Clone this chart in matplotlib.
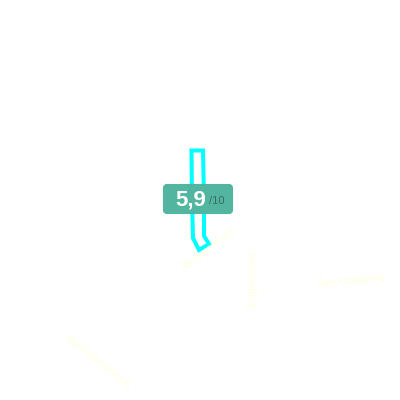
import matplotlib
matplotlib.use('Agg')
import matplotlib.pyplot as plt
from matplotlib.patches import FancyBboxPatch

# outline
outline_x = [191.5, 203, 204, 204, 209, 199, 193, 192]
outline_y = [150.5, 150.5, 200, 236, 244, 250, 238, 200]

score = '5,9'
score_max = '/10'

# pale rotated labels
labels = ['Bruggmutrast', 'Singdrossel', 'Wacholderdrossel', 'Sacrvogelgang']
label_x = [208, 252, 98, 352]
label_y = [249, 279, 362, 281]
label_rot = [37, 90, -38, 5]
label_size = [6.5, 7.5, 6.5, 6.5]

fig = plt.figure(figsize=(4, 4), dpi=100)
ax = fig.add_axes([0, 0, 1, 1])
ax.set_xlim(0, 400)
ax.set_ylim(400, 0)
ax.axis('off')

ax.fill(outline_x, outline_y, facecolor='white', edgecolor='#00ffff', linewidth=2.9, joinstyle='miter')

for t, x, y, r, s in zip(labels, label_x, label_y, label_rot, label_size):
    ax.text(x, y, t, rotation=r, fontsize=s, color='#ffffe0', ha='center', va='center', rotation_mode='anchor')

box = FancyBboxPatch((164, 185), 68, 28, boxstyle='round,pad=0,rounding_size=3', mutation_aspect=1,
                     facecolor='#52b5a0', edgecolor='#52b5a0', linewidth=1.5, zorder=3)
ax.add_patch(box)
ax.text(175, 200, score, color='white', fontsize=16, fontweight='bold', family='Liberation Sans', ha='left', va='center', zorder=4)
ax.text(209, 201.5, score_max, color='#3d6b60', fontsize=8, family='Liberation Sans', ha='left', va='center', zorder=4)

fig.savefig('out.png', dpi=100)
